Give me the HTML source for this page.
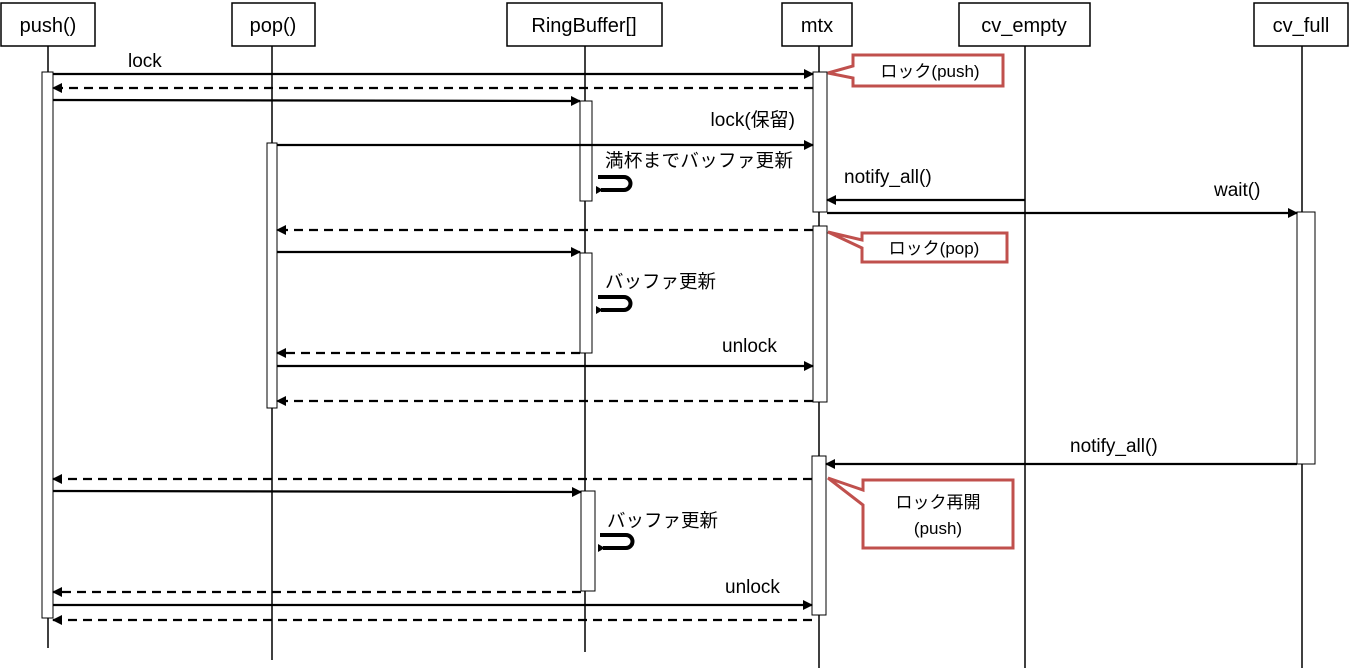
<!DOCTYPE html>
<html><head><meta charset="utf-8"><style>body{margin:0;background:#fff}svg{display:block}text{font-family:"Liberation Sans","Noto Sans CJK JP",sans-serif;fill:#000}</style></head><body>
<svg width="1353" height="670" xmlns="http://www.w3.org/2000/svg">
<defs><marker id="a" markerWidth="10" markerHeight="10" refX="9" refY="5" orient="auto" markerUnits="userSpaceOnUse"><path d="M0,0 L10,5 L0,10z" fill="#000"/></marker>
<marker id="b" markerWidth="8" markerHeight="8" refX="2" refY="4" orient="auto" markerUnits="userSpaceOnUse"><path d="M0,4 L7,0 L7,8z" fill="#000"/></marker></defs>
<g stroke="#000" stroke-width="1.5">
<line x1="48" y1="46" x2="48" y2="648"/><line x1="272" y1="46" x2="272" y2="660"/><line x1="585" y1="46" x2="585" y2="652"/><line x1="819" y1="46" x2="819" y2="668"/><line x1="1025" y1="46" x2="1025" y2="668"/><line x1="1302" y1="46" x2="1302" y2="668"/>
</g>
<g fill="#fff" stroke="#000" stroke-width="1.5">
<rect x="1" y="3" width="94" height="43"/><rect x="232" y="3" width="83" height="43"/><rect x="507" y="3" width="155" height="43"/><rect x="782" y="3" width="70" height="43"/><rect x="959" y="3" width="131" height="43"/><rect x="1254" y="3" width="94" height="43"/>
</g>
<g font-size="20" text-anchor="middle"><text x="48" y="32">push()</text><text x="273" y="32">pop()</text><text x="584" y="32">RingBuffer[]</text><text x="817" y="32">mtx</text><text x="1024" y="32">cv_empty</text><text x="1301" y="32">cv_full</text></g>
<g fill="#fff" stroke="#000" stroke-width="1">
<rect x="42" y="72" width="11" height="546"/><rect x="267" y="143" width="10" height="265"/><rect x="580" y="101" width="12" height="100"/><rect x="580" y="253" width="12" height="100"/><rect x="581" y="491" width="14" height="100"/><rect x="813" y="72" width="14" height="140"/><rect x="813" y="226" width="14" height="176"/><rect x="812" y="456" width="14" height="159"/><rect x="1297" y="212" width="18" height="252"/>
</g>
<g stroke="#000" stroke-width="2.2" fill="none" marker-end="url(#a)">
<line x1="53" y1="74" x2="813" y2="74"/><line x1="53" y1="100" x2="580" y2="101"/><line x1="277" y1="145" x2="813" y2="145"/><line x1="1025" y1="200" x2="827" y2="200"/><line x1="827" y1="213" x2="1297" y2="213"/><line x1="277" y1="252" x2="580" y2="252"/><line x1="277" y1="366" x2="813" y2="366"/><line x1="1297" y1="464" x2="826" y2="464"/><line x1="53" y1="491" x2="581" y2="492"/><line x1="53" y1="605" x2="812" y2="605"/>
</g>
<g stroke="#000" stroke-width="2.2" fill="none" stroke-dasharray="9,6" marker-end="url(#a)">
<line x1="813" y1="88" x2="53" y2="88"/><line x1="813" y1="230" x2="277" y2="230"/><line x1="580" y1="353" x2="277" y2="353"/><line x1="813" y1="401" x2="277" y2="401"/><line x1="812" y1="479" x2="53" y2="479"/><line x1="581" y1="592" x2="53" y2="592"/><line x1="812" y1="620" x2="53" y2="620"/>
</g>
<g stroke="#000" stroke-width="4" fill="none" marker-end="url(#b)">
<path d="M598,177 H624 A6.5,6.5 0 0 1 624,190 H601"/><path d="M598,297 H624 A6.5,6.5 0 0 1 624,310 H601"/><path d="M600,535 H626 A6.5,6.5 0 0 1 626,548 H603"/>
</g>
<g font-size="19"><text x="128" y="67">lock</text><text x="795" y="126" text-anchor="end">lock(保留)</text><text x="605" y="167" font-size="18.5" textLength="188">満杯までバッファ更新</text><text x="844" y="183">notify_all()</text><text x="1214" y="196">wait()</text><text x="605" y="288" font-size="18.5">バッファ更新</text><text x="722" y="352">unlock</text><text x="1070" y="452">notify_all()</text><text x="607" y="527" font-size="18.5">バッファ更新</text><text x="725" y="593">unlock</text></g>
<g fill="#fff" stroke="#c0504d" stroke-width="3">
<path d="M853,55 H1003 V86 H853 V78 L828,73 L853,66 Z"/>
<path d="M862,233 H1007 V262 H862 V248 L828,232 L862,240 Z"/>
<path d="M863,480 H1013 V548 H863 V505 L828,478 L863,490 Z"/>
</g>
<g font-size="17" text-anchor="middle"><text x="930" y="77">ロック(push)</text><text x="934" y="254">ロック(pop)</text><text x="938" y="508">ロック再開</text><text x="938" y="534">(push)</text></g>
</svg>
</body></html>
